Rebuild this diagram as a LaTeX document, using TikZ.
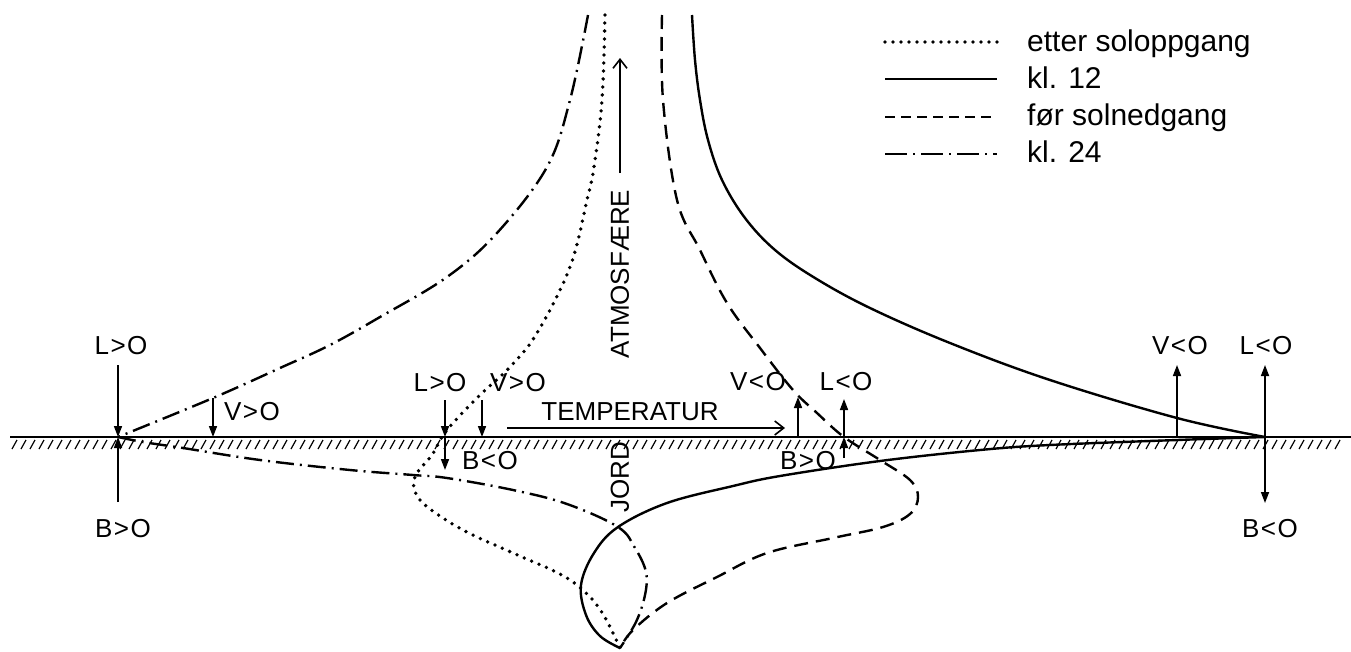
\documentclass[tikz,border=0pt]{standalone}
\usepackage{fontspec}
\setmainfont{Liberation Sans}
\usetikzlibrary{arrows.meta}
\newcommand{\gt}{\kern1.5pt>\kern1.5pt}
\newcommand{\lt}{\kern1.5pt<\kern1.5pt}
\begin{document}
\begin{tikzpicture}[x=1pt,y=-1pt,
  lab/.style={font=\fontsize{26}{30}\selectfont, inner sep=0pt},
  leg/.style={font=\fontsize{30}{34}\selectfont, inner sep=0pt, anchor=base west},
  arr/.style={line width=1.6pt, -{Triangle[length=11pt,width=8pt]}},
  openarr/.style={line width=1.6pt, -{Straight Barb[length=9pt,width=14pt,line width=1.6pt]}},
  curve/.style={line width=2.4pt, line join=round},
  solidc/.style={curve},
  dashedc/.style={curve, dash pattern=on 14pt off 8pt},
  dottedc/.style={curve, line width=3.8pt, line cap=round, dash pattern=on 0pt off 8pt},
  dashdotc/.style={curve, dash pattern=on 18pt off 6pt on 2pt off 6pt},
  ground/.style={line width=2.4pt},
  hatch/.style={line width=1.2pt}]
\useasboundingbox (0,0) rectangle (1351,651);

% ground line and hatching
\coordinate (G0) at (10,437);
\coordinate (G1) at (1351,437);
\draw[ground] (G0) -- (G1);
\foreach \x in {14,23,...,1345} {
  \draw[hatch] (\x+3,440) -- (\x-2,449);
}

% key points
\coordinate (PL) at (118,437);
\coordinate (PM) at (445,437);
\coordinate (PR) at (844,437);
\coordinate (PE) at (1265,437);
\coordinate (BOT) at (620,648);

% kl. 24 (dash-dot)
\draw[dashdotc] plot[smooth, tension=0.6] coordinates {
  (588,15) (570,100) (547,167) (497,233) (447,277) (380,317) (330,345)
  (280,368) (213,398) (118,437)};
\draw[dashdotc] plot[smooth, tension=0.6] coordinates {
  (118,437) (143,442) (183,448) (260,460) (350,470) (413,475) (447,478)
  (513,490) (567,504) (618,527) (635,548) (646,572) (645,595) (636,622) (620,648)};

% etter soloppgang (dotted)
\draw[dottedc] plot[smooth, tension=0.6] coordinates {
  (605,15) (602,100) (594,167) (587,200) (570,267) (537,333) (510,367)
  (480,395) (447,430) (432,455) (417,473) (414,488) (425,505) (463,530)
  (513,553) (560,574) (585,592) (603,614) (620,648)};

% kl. 12 (solid)
\draw[solidc] plot[smooth, tension=0.6] coordinates {
  (692,15) (695,60) (700,100) (708,140) (722,180) (745,218) (775,250)
  (815,278) (870,308) (950,343) (1050,380) (1177,418) (1265,437)};
\draw[solidc] plot[smooth, tension=0.6] coordinates {
  (1265,437) (1177,440) (1050,445) (980,450) (880,461) (780,476)
  (733,486) (667,503) (618,527) (594,553) (581,585) (586,615) (600,636) (620,648)};

% foer solnedgang (dashed)
\draw[dashedc] plot[smooth, tension=0.6] coordinates {
  (662,15) (663,100) (677,200) (700,250) (727,303) (760,348) (793,390)
  (817,413) (844,437) (880,460) (910,480) (918,497) (910,514) (883,527)
  (833,538) (767,553) (717,577) (667,603) (633,630) (620,648)};

% left arrows
\coordinate (aL1) at (118,365);
\coordinate (aL2) at (213,398);
\coordinate (aL2e) at (213,437);
\coordinate (aB1) at (118,502);
\node[lab] (tL1) at (121,346) {L\gt O};
\node[lab] (tV1) at (252,412) {V\gt O};
\node[lab] (tB1) at (123,529) {B\gt O};
\draw[arr] (aL1) -- (PL);
\draw[arr] (aL2) -- (aL2e);
\draw[arr] (aB1) -- (PL);

% middle-left arrows
\coordinate (mL) at (445,400);
\coordinate (mB) at (445,470);
\coordinate (mV) at (482,400);
\coordinate (mVe) at (482,437);
\node[lab] (tL2) at (440,383) {L\gt O};
\node[lab] (tV2) at (518,383) {V\gt O};
\node[lab] (tB2) at (490,461) {B\lt O};
\draw[arr] (mL) -- (PM);
\draw[arr] (PM) -- (mB);
\draw[arr] (mV) -- (mVe);

% temperature arrow
\coordinate (T0) at (507,428);
\coordinate (T1) at (785,428);
\draw[openarr] (T0) -- (T1);
\node[lab] (tT) at (630,412) {TEMPERATUR};

% atmosphere arrow
\coordinate (A0) at (620,173);
\coordinate (A1) at (620,58);
\draw[openarr] (A0) -- (A1);
\node[lab, rotate=90] (tA) at (620,274) {ATMOSFÆRE};
\node[lab, rotate=90] (tJ) at (620,477) {JORD};

% middle-right arrows
\coordinate (rV) at (798,437);
\coordinate (rVe) at (798,397);
\coordinate (rL) at (844,399);
\coordinate (rB) at (844,458);
\node[lab] (tV3) at (758,382) {V\lt O};
\node[lab] (tL3) at (846,382) {L\lt O};
\node[lab] (tB3) at (808,461) {B\gt O};
\draw[arr] (rV) -- (rVe);
\draw[arr] (PR) -- (rL);
\draw[arr] (rB) -- (PR);

% right arrows
\coordinate (eV) at (1177,437);
\coordinate (eVe) at (1177,365);
\coordinate (eL) at (1265,365);
\coordinate (eB) at (1265,503);
\node[lab] (tV4) at (1180,346) {V\lt O};
\node[lab] (tL4) at (1266,346) {L\lt O};
\node[lab] (tB4) at (1270,529) {B\lt O};
\draw[arr] (eV) -- (eVe);
\draw[arr] (PE) -- (eL);
\draw[arr] (PE) -- (eB);

% legend
\coordinate (l1a) at (885,42);  \coordinate (l1b) at (997,42);
\coordinate (l2a) at (885,79);  \coordinate (l2b) at (997,79);
\coordinate (l3a) at (885,117); \coordinate (l3b) at (997,117);
\coordinate (l4a) at (885,154); \coordinate (l4b) at (997,154);
\draw[dottedc] (l1a) -- (l1b);
\draw[solidc] (l2a) -- (l2b);
\draw[dashedc, dash pattern=on 10pt off 6pt] (l3a) -- (l3b);
\draw[dashdotc, dash pattern=on 22pt off 6pt on 2pt off 6pt] (l4a) -- (l4b);
\node[leg] (g1) at (1027,51) {etter soloppgang};
\node[leg] (g2) at (1027,88) {kl. 12};
\node[leg] (g3) at (1027,125) {før solnedgang};
\node[leg] (g4) at (1027,162) {kl. 24};
\end{tikzpicture}
\end{document}
